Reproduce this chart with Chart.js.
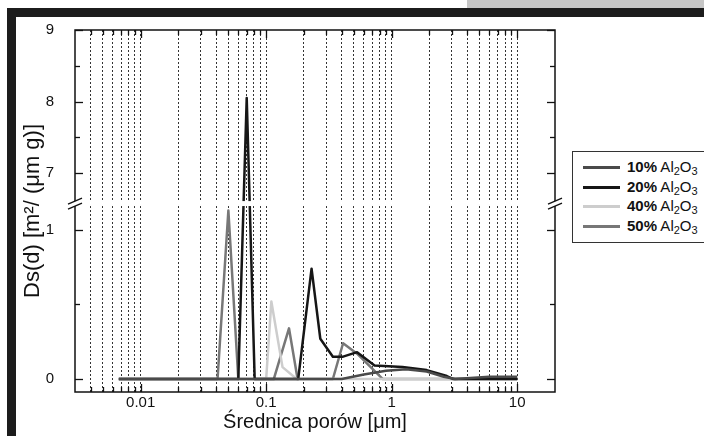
<!DOCTYPE html>
<html>
<head>
<meta charset="utf-8">
<script src="https://cdn.jsdelivr.net/npm/chart.js@4/dist/chart.umd.min.js"></script>
<style>
html, body { margin: 0; padding: 0; background: #fff; }
#wrap { position: relative; width: 704px; height: 436px; overflow: hidden; font-family: "Liberation Sans", Arial, sans-serif; }
#greyTab { position: absolute; left: 467px; top: 0; width: 237px; height: 8px; background: #c6c6c6; }
#frame { position: absolute; left: 7px; top: 8px; width: 720px; height: 450px; border-top: 9px solid #1c1c1c; border-left: 9px solid #1c1c1c; }
#chart { position: absolute; left: 0; top: 0; }
#legend { position: absolute; left: 572px; top: 151px; width: 160px; height: 90px; border: 1px solid #333; background: #fff; }
.row { position: absolute; left: 0; width: 160px; height: 18px; font-size: 15px; line-height: 18px; color: #111; white-space: nowrap; }
.swatch { position: absolute; left: 10px; top: 8px; width: 37px; height: 3px; }
.txt { position: absolute; left: 54px; top: 0; }
.txt sub { font-size: 11px; vertical-align: -3px; line-height: 0; }
</style>
</head>
<body>
<div id="wrap">
  <div id="greyTab"></div>
  <div id="frame"></div>
  <canvas id="chart" width="704" height="436"></canvas>
  <div id="legend"></div>
</div>
<script>
// ==========================
// DATA
// ==========================

const SERIES_PERCENT = ["10%", "20%", "40%", "50%"];
const SERIES_COLORS = ["#4a4a4a", "#161616", "#cdcdcd", "#777777"];

// pore diameter [um] / Ds(d) values, per series
const D_10  = [0.0067, 0.4, 0.6, 0.9, 1.3, 1.9, 2.6, 3.2, 6, 10];
const DS_10 = [0, 0, 0.03, 0.055, 0.065, 0.05, 0.015, 0, 0.015, 0.015];

const D_20  = [0.0067, 0.06, 0.07, 0.081, 0.18, 0.23, 0.27, 0.34, 0.41, 0.53, 0.73, 1.22, 1.9, 2.75, 3.1, 10];
const DS_20 = [0, 0, 8.05, 0, 0, 0.74, 0.27, 0.15, 0.15, 0.18, 0.09, 0.08, 0.06, 0.02, 0, 0];

const D_40  = [0.0067, 0.1, 0.11, 0.135, 0.175, 10];
const DS_40 = [0, 0, 0.52, 0.08, 0, 0];

const D_50  = [0.0067, 0.041, 0.05, 0.06, 0.115, 0.152, 0.178, 0.34, 0.41, 0.53, 0.85, 10];
const DS_50 = [0, 0, 1.13, 0, 0, 0.34, 0, 0, 0.24, 0.17, 0, 0];

const DIAMETERS = [D_10, D_20, D_40, D_50];
const VALUES = [DS_10, DS_20, DS_40, DS_50];

// axis ticks
const X_LABELS = [0.01, 0.1, 1, 10];
const X_MINOR_FROM = 4; // first minor tick is 4e-3
const Y_TICKS = [0, 0.5, 1, 7, 7.5, 8, 8.5, 9];
const Y_LABELS = [0, 1, 7, 8, 9];

// broken y axis: lower part, upper part
const LOW_MIN = -0.087, LOW_MAX = 1.16;
const HIGH_MIN = 6.61, HIGH_MAX = 9;
const LOW_K = 150, HIGH_K = 72, GAP = 5;

// ==========================
// X TICK LIST
// ==========================

let xTicks = [];
for (let m = X_MINOR_FROM; m <= 9; m++) xTicks.push(+(m * 0.001).toFixed(4));
X_LABELS.forEach((dec, k) => {
    xTicks.push(dec);
    if (k < X_LABELS.length - 1) {
        for (let m = 2; m <= 9; m++) xTicks.push(+(m * dec).toFixed(4));
    }
});

// ==========================
// BROKEN SCALE
// ==========================

function brokenOffset(v){
    const wLow = (LOW_MAX - LOW_MIN) * LOW_K;
    if (v <= LOW_MAX) return (v - LOW_MIN) * LOW_K;
    if (v < HIGH_MIN) return wLow + (v - LOW_MAX) / (HIGH_MIN - LOW_MAX) * GAP;
    return wLow + GAP + (v - HIGH_MIN) * HIGH_K;
}
const TOTAL = brokenOffset(HIGH_MAX);

class BrokenScale extends Chart.LinearScale {
    getPixelForValue(value){
        return this.bottom - brokenOffset(value) / TOTAL * (this.bottom - this.top);
    }
    getValueForPixel(pixel){
        const off = (this.bottom - pixel) / (this.bottom - this.top) * TOTAL;
        const wLow = (LOW_MAX - LOW_MIN) * LOW_K;
        if (off <= wLow) return LOW_MIN + off / LOW_K;
        if (off < wLow + GAP) return LOW_MAX + (off - wLow) / GAP * (HIGH_MIN - LOW_MAX);
        return HIGH_MIN + (off - wLow - GAP) / HIGH_K;
    }
}
BrokenScale.id = "broken";
BrokenScale.defaults = Chart.LinearScale.defaults;
Chart.register(BrokenScale);

// ==========================
// AXIS BOX, INWARD TICKS, BREAK
// ==========================

const axisBox = {
    id: "axisBox",
    afterDatasetsDraw(chart){
        const ctx = chart.ctx;
        const a = chart.chartArea;
        const x = chart.scales.x;
        const y = chart.scales.y;

        function line(x1, y1, x2, y2){
            ctx.beginPath();
            ctx.moveTo(x1, y1);
            ctx.lineTo(x2, y2);
            ctx.stroke();
        }

        ctx.save();
        ctx.strokeStyle = "#111";
        ctx.lineWidth = 1.5;
        ctx.strokeRect(a.left, a.top, a.right - a.left, a.bottom - a.top);

        ctx.lineWidth = 1.3;
        x.ticks.forEach(t => {
            const px = Math.round(x.getPixelForValue(t.value)) + 0.5;
            const len = X_LABELS.includes(t.value) ? 8 : 5;
            line(px, a.bottom, px, a.bottom - len);
            line(px, a.top, px, a.top + len);
        });
        y.ticks.forEach(t => {
            const py = Math.round(y.getPixelForValue(t.value)) + 0.5;
            const len = Y_LABELS.includes(t.value) ? 8 : 5;
            line(a.left, py, a.left + len, py);
            line(a.right, py, a.right - len, py);
        });

        // axis break
        const gTop = y.getPixelForValue(HIGH_MIN);
        const gBot = y.getPixelForValue(LOW_MAX);
        ctx.fillStyle = "#fff";
        ctx.fillRect(a.left - 8, gTop, a.right - a.left + 16, gBot - gTop);
        ctx.lineWidth = 1.3;
        [a.left, a.right].forEach(ax => {
            line(ax - 7, gTop + 3, ax + 7, gTop - 3);
            line(ax - 7, gBot + 3, ax + 7, gBot - 3);
        });
        ctx.restore();
    }
};

// ==========================
// CHART
// ==========================

const datasets = SERIES_PERCENT.map((p, i) => ({
    label: p + " Al2O3",
    data: DIAMETERS[i].map((d, j) => ({ x: d, y: VALUES[i][j] })),
    borderColor: SERIES_COLORS[i],
    borderWidth: 2.5,
    borderJoinStyle: "round",
    pointRadius: 0,
    tension: 0,
    fill: false
}));

new Chart(document.getElementById("chart"), {

    type: "line",

    data: { datasets: datasets },

    options: {
        responsive: false,
        animation: false,
        layout: { padding: { left: 0, top: 28, right: 149, bottom: 0 } },
        plugins: {
            legend: { display: false },
            tooltip: { enabled: false }
        },
        scales: {
            x: {
                type: "logarithmic",
                min: 0.003,
                max: 20,
                afterBuildTicks: s => { s.ticks = xTicks.map(v => ({ value: v })); },
                afterFit: s => { s.height = 44; },
                ticks: {
                    autoSkip: false,
                    maxRotation: 0,
                    padding: 2,
                    color: "#111",
                    font: { family: "Liberation Sans", size: 15 },
                    callback: v => X_LABELS.includes(v) ? String(v) : ""
                },
                grid: { display: true, drawTicks: false, color: "#333", lineWidth: 1 },
                border: { display: false, dash: [2, 2] },
                title: {
                    display: true,
                    text: "Średnica porów [μm]",
                    color: "#111",
                    font: { family: "Liberation Sans", size: 20 },
                    padding: { top: 0, bottom: 2 }
                }
            },
            y: {
                type: "broken",
                min: LOW_MIN,
                max: HIGH_MAX,
                afterBuildTicks: s => { s.ticks = Y_TICKS.map(v => ({ value: v })); },
                afterFit: s => { s.width = 75; },
                ticks: {
                    autoSkip: false,
                    padding: 21,
                    color: "#111",
                    font: { family: "Liberation Sans", size: 15 },
                    callback: v => Y_LABELS.includes(v) ? String(v) : ""
                },
                grid: { display: false, drawTicks: false },
                border: { display: false },
                title: {
                    display: true,
                    text: "Ds(d) [m²/ (μm g)]",
                    color: "#111",
                    font: { family: "Liberation Sans", size: 22 },
                    padding: { top: 20, bottom: 0 }
                }
            }
        }
    },

    plugins: [axisBox]

});

// ==========================
// LEGEND
// ==========================

const legendBox = document.getElementById("legend");

SERIES_PERCENT.forEach((p, i) => {
    const row = document.createElement("div");
    row.className = "row";
    row.style.top = (6 + i * 19.5) + "px";
    row.innerHTML =
        '<span class="swatch" style="background:' + SERIES_COLORS[i] + '"></span>' +
        '<span class="txt"><b>' + p + '</b> Al<sub>2</sub>O<sub>3</sub></span>';
    legendBox.appendChild(row);
});
</script>
</body>
</html>
